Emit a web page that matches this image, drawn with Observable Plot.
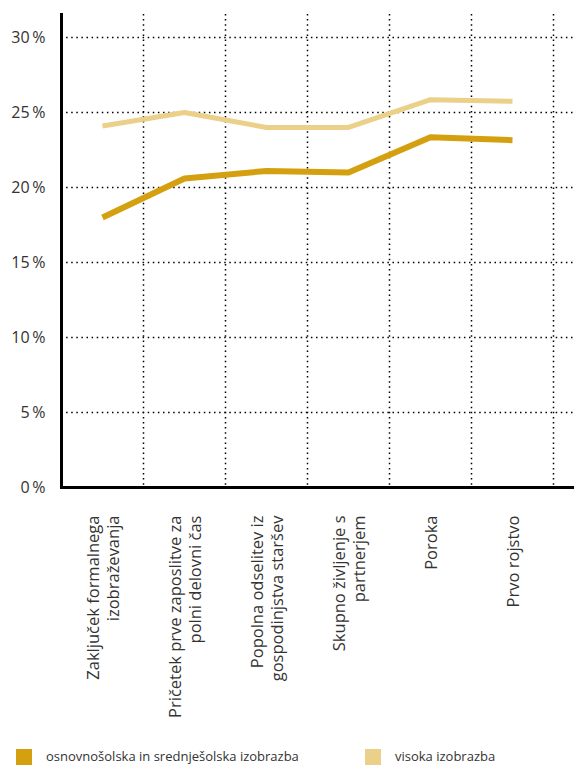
<!DOCTYPE html>
<html><head><meta charset="utf-8">
<script src="https://cdn.jsdelivr.net/npm/d3@7"></script>
<script src="https://cdn.jsdelivr.net/npm/@observablehq/plot@0.6"></script>
<style>
body{margin:0;background:#fff;font-family:"Open Sans",sans-serif;color:#333}
#chart svg{display:block}
#legend{position:relative;height:40px;width:574px}
.sw{position:absolute;top:24px;width:16px;height:16px}
.lt{position:absolute;top:22px;font-size:13px;line-height:18px;color:#333}
</style></head><body>
<div id="chart"></div>
<div id="legend"></div>
<script>
const categories = [
  "Zaključek formalnega\nizobraževanja",
  "Pričetek prve zaposlitve za\npolni delovni čas",
  "Popolna odselitev iz\ngospodinjstva staršev",
  "Skupno življenje s\npartnerjem",
  "Poroka",
  "Prvo rojstvo"
];
const seriesNames = ["osnovnošolska in srednješolska izobrazba", "visoka izobrazba"];
const lowerValues = [18.0, 20.6, 21.1, 21.0, 23.35, 23.15];
const higherValues = [24.1, 25.0, 24.0, 24.0, 25.85, 25.75];
const yTicks = [0, 5, 10, 15, 20, 25, 30];
const colors = ["#D5A00F", "#EBD08A"];

const lowerData = categories.map((c, i) => ({cat: c, value: lowerValues[i], series: seriesNames[0]}));
const higherData = categories.map((c, i) => ({cat: c, value: higherValues[i], series: seriesNames[1]}));

const chart = Plot.plot({
  width: 574,
  height: 725,
  marginTop: 14,
  marginLeft: 61,
  marginRight: 0,
  marginBottom: 238,
  style: {fontFamily: "'Open Sans', sans-serif", color: "#333", background: "#fff"},
  x: {type: "band", domain: categories, range: [61, 553], padding: 0, axis: null},
  y: {domain: [0, 31.53], axis: null},
  color: {domain: seriesNames, range: colors},
  marks: [
    Plot.ruleY(yTicks.filter(d => d > 0), {stroke: "#000", strokeWidth: 1.5, strokeDasharray: "1.5,3.6"}),
    Plot.ruleX(categories, {x: d => d, dx: 41, stroke: "#000", strokeWidth: 1.5, strokeDasharray: "1.5,3.6"}),
    Plot.line(higherData, {x: "cat", y: "value", stroke: "series", strokeWidth: 5, strokeLinecap: "butt"}),
    Plot.line(lowerData, {x: "cat", y: "value", stroke: "series", strokeWidth: 6, strokeLinecap: "butt"}),
    Plot.frame({anchor: "left", stroke: "#000", strokeWidth: 3}),
    Plot.frame({anchor: "bottom", stroke: "#000", strokeWidth: 3}),
    Plot.axisY(yTicks, {label: null, tickSize: 0, tickPadding: 16, tickFormat: d => d + "\u2009%", fontSize: 16, fill: "#333"}),
    Plot.text(categories, {x: d => d, frameAnchor: "bottom", dy: 28, rotate: -90, textAnchor: "end", lineAnchor: "middle", lineHeight: 1.2, text: d => d, fontSize: 16.5, fill: "#333"})
  ]
});
document.getElementById("chart").appendChild(chart);

const legend = document.getElementById("legend");
const legendPos = [[16, 46], [365, 395]];
seriesNames.forEach((name, i) => {
  const sw = document.createElement("div");
  sw.className = "sw";
  sw.style.left = legendPos[i][0] + "px";
  sw.style.background = colors[i];
  legend.appendChild(sw);
  const t = document.createElement("div");
  t.className = "lt";
  t.style.left = legendPos[i][1] + "px";
  t.textContent = name;
  legend.appendChild(t);
});
</script>
</body></html>
